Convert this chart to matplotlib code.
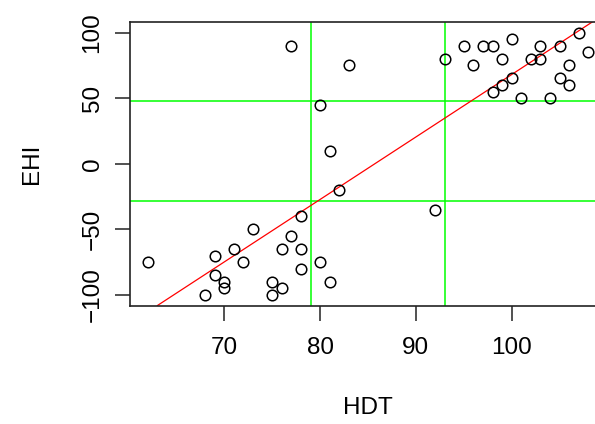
import matplotlib
matplotlib.use("Agg")
import matplotlib.pyplot as plt

# datos
hdt = [62, 68, 69, 69, 70, 70, 71, 72, 73, 75, 75, 76, 76, 77, 78, 78, 78, 80, 81, 82, 92,
       77, 80, 81, 83, 93,
       95, 96, 97, 98, 100, 99, 98, 99, 100, 101, 102, 103, 103, 104, 105, 105, 106, 106, 107, 108]
ehi = [-75, -100, -70, -85, -90, -95, -65, -75, -50, -90, -100, -65, -95, -55, -40, -65, -80, -75, -90, -20, -35,
       90, 45, 10, 75, 80,
       90, 75, 90, 90, 95, 80, 55, 60, 65, 50, 80, 90, 80, 50, 90, 65, 75, 60, 100, 85]

# lineas de corte (verde) y recta ajustada (roja)
cortes_x = [79, 93]
cortes_y = [48, -28]
intercepto = -408
pendiente = 4.76

plt.rcParams['font.family'] = ['Liberation Sans', 'DejaVu Sans']

fig = plt.figure(figsize=(5.95, 4.24), dpi=100)
# el recuadro sale un poco por la derecha como en la imagen original
ax = fig.add_axes([130 / 595, 1 - 305.5 / 424, 476 / 595, 283.5 / 424])

for x in cortes_x:
    ax.axvline(x, color='#00ff00', lw=1.1, zorder=1)
for y in cortes_y:
    ax.axhline(y, color='#00ff00', lw=1.1, zorder=1)

ax.axline((0, intercepto), slope=pendiente, color='red', lw=0.9, zorder=2)

ax.plot(hdt, ehi, 'o', mfc='none', mec='black', mew=1.1, ms=7.6, zorder=3)

ax.set_xlim(60.16, 109.84)
ax.set_ylim(-108, 108)
ax.set_xticks([70, 80, 90, 100])
ax.set_yticks([-100, -50, 0, 50, 100])
ax.tick_params(axis='both', length=11, width=1.1, labelsize=17.5, color='#222222')
ax.tick_params(axis='x', pad=12)
ax.tick_params(axis='y', pad=8)
for lab in ax.get_yticklabels():
    lab.set_rotation(90)
    lab.set_va('center')

for s in ax.spines.values():
    s.set_linewidth(1.2)
    s.set_color('#222222')

ax.set_xlabel('HDT', fontsize=17.5, labelpad=27)
ax.set_ylabel('EHI', fontsize=17.5, labelpad=28)

fig.savefig('out.png', dpi=100)
